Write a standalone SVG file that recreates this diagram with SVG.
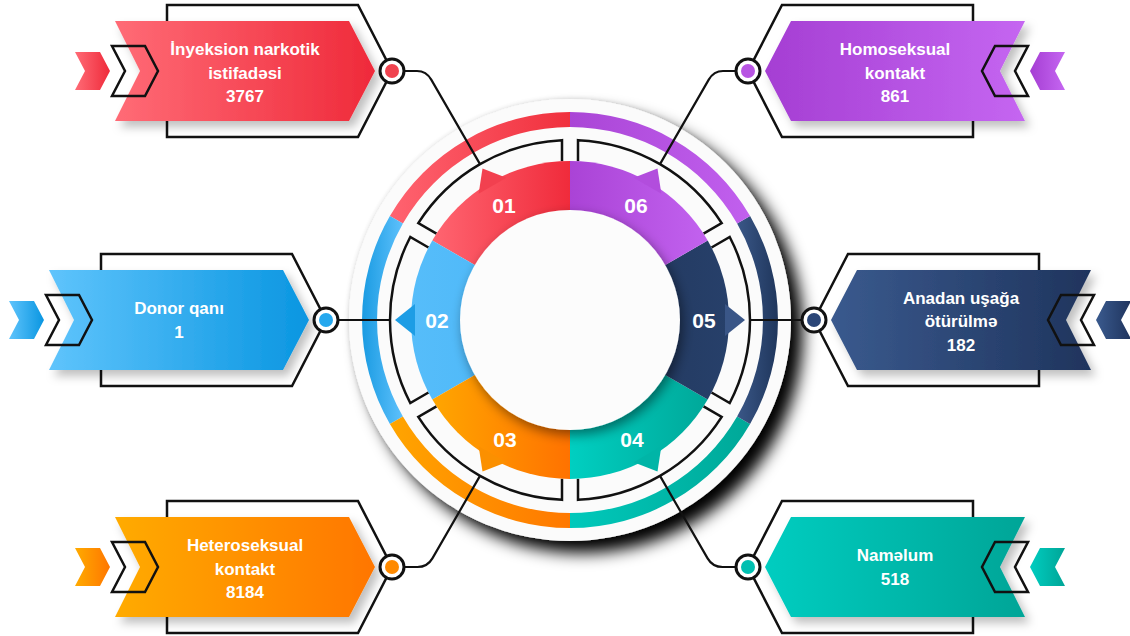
<svg xmlns="http://www.w3.org/2000/svg" width="1130" height="636" viewBox="0 0 1130 636">
<defs>
<style>
.t{font-family:"Liberation Sans",Arial,sans-serif;font-weight:bold;fill:#fff;text-anchor:middle;font-size:17px}
.n{font-size:21px}
.ol{fill:none;stroke:#111;stroke-width:2.5;stroke-linejoin:miter}
.fr{fill:none;stroke:#111;stroke-width:2.5;stroke-linejoin:miter}
.cn{fill:none;stroke:#111;stroke-width:2.2}
.ring{fill:#fff;stroke:#111;stroke-width:3}
</style>
<filter id="diskShadow" x="-20%" y="-20%" width="150%" height="150%">
<feGaussianBlur in="SourceAlpha" stdDeviation="8"/>
<feOffset dx="12" dy="12" result="o"/>
<feComponentTransfer in="o" result="d"><feFuncA type="linear" slope="1"/></feComponentTransfer>
<feGaussianBlur in="SourceAlpha" stdDeviation="2.5" result="s2"/>
<feComponentTransfer in="s2" result="d2"><feFuncA type="linear" slope="0.15"/></feComponentTransfer>
<feMerge><feMergeNode in="d"/><feMergeNode in="d2"/><feMergeNode in="SourceGraphic"/></feMerge>
</filter>
<filter id="soft" x="-20%" y="-30%" width="150%" height="170%">
<feDropShadow dx="5" dy="6" stdDeviation="5" flood-color="#000" flood-opacity="0.25"/>
</filter>
<filter id="inner" x="-30%" y="-30%" width="160%" height="160%">
<feDropShadow dx="3" dy="5" stdDeviation="6" flood-color="#000" flood-opacity="0.45"/>
</filter>
<linearGradient id="gRed" x1="0" x2="1" y1="0" y2="0"><stop offset="0" stop-color="#ff6b76"/><stop offset="1" stop-color="#ef2a3a"/></linearGradient>
<linearGradient id="gBlue" x1="0" x2="1" y1="0" y2="0"><stop offset="0" stop-color="#5fc4fc"/><stop offset="1" stop-color="#0a96e1"/></linearGradient>
<linearGradient id="gOrange" x1="0" x2="1" y1="0" y2="0"><stop offset="0" stop-color="#ffab00"/><stop offset="1" stop-color="#ff7600"/></linearGradient>
<linearGradient id="gPurple" x1="0" x2="1" y1="0" y2="0"><stop offset="0" stop-color="#a53ed3"/><stop offset="1" stop-color="#c566f1"/></linearGradient>
<linearGradient id="gNavy" x1="0" x2="1" y1="0" y2="0"><stop offset="0" stop-color="#3a5a8e"/><stop offset="1" stop-color="#1f345d"/></linearGradient>
<linearGradient id="gTeal" x1="0" x2="1" y1="0" y2="0"><stop offset="0" stop-color="#00cdc0"/><stop offset="1" stop-color="#00a597"/></linearGradient>
<linearGradient id="sRed" x1="0" x2="1" y1="0" y2="0"><stop offset="0" stop-color="#ff6571"/><stop offset="1" stop-color="#f02b3b"/></linearGradient>
<linearGradient id="sBlue" x1="0" x2="1" y1="0" y2="0"><stop offset="0" stop-color="#56bdfa"/><stop offset="1" stop-color="#48b5f7"/></linearGradient>
<linearGradient id="sOrange" x1="0" x2="1" y1="0" y2="0"><stop offset="0" stop-color="#ffa600"/><stop offset="1" stop-color="#ff7200"/></linearGradient>
<linearGradient id="sTeal" x1="0" x2="1" y1="0" y2="0"><stop offset="0" stop-color="#00cfc1"/><stop offset="1" stop-color="#00a899"/></linearGradient>
<linearGradient id="sNavy" x1="0" x2="1" y1="0" y2="0"><stop offset="0" stop-color="#1f3459"/><stop offset="1" stop-color="#27406a"/></linearGradient>
<linearGradient id="sPurple" x1="0" x2="1" y1="0" y2="0"><stop offset="0" stop-color="#aa43d6"/><stop offset="1" stop-color="#c262ef"/></linearGradient>
<linearGradient id="rRed" x1="0" x2="1" y1="0" y2="0"><stop offset="0" stop-color="#ff6370"/><stop offset="1" stop-color="#f0303d"/></linearGradient>
<linearGradient id="rBlue" x1="0" x2="1" y1="0" y2="0"><stop offset="0" stop-color="#1a9be2"/><stop offset="1" stop-color="#5ec1fc"/></linearGradient>
<linearGradient id="rOrange" x1="0" x2="1" y1="0" y2="0"><stop offset="0" stop-color="#ffa500"/><stop offset="1" stop-color="#ff7800"/></linearGradient>
<linearGradient id="rTeal" x1="0" x2="1" y1="0" y2="0"><stop offset="0" stop-color="#00c9bb"/><stop offset="1" stop-color="#00a898"/></linearGradient>
<linearGradient id="rNavy" x1="0" x2="1" y1="0" y2="0"><stop offset="0" stop-color="#3a5787"/><stop offset="1" stop-color="#1f365c"/></linearGradient>
<linearGradient id="rPurple" x1="0" x2="1" y1="0" y2="0"><stop offset="0" stop-color="#aa45d6"/><stop offset="1" stop-color="#c160ee"/></linearGradient>
</defs>

<rect width="1130" height="636" fill="#ffffff"/>

<g id="hub">
<circle cx="570" cy="320" r="221" fill="#fbfbfb" filter="url(#diskShadow)"/>
<g id="outer-ring">
<path d="M570,112 A208,208 0 0,0 389.9,216 L402.9,223.5 A193,193 0 0,1 570,127 Z" fill="url(#rRed)"/>
<path d="M389.9,216 A208,208 0 0,0 389.9,424 L402.9,416.5 A193,193 0 0,1 402.9,223.5 Z" fill="url(#rBlue)"/>
<path d="M389.9,424 A208,208 0 0,0 570,528 L570,513 A193,193 0 0,1 402.9,416.5 Z" fill="url(#rOrange)"/>
<path d="M570,528 A208,208 0 0,0 750.1,424 L737.1,416.5 A193,193 0 0,1 570,513 Z" fill="url(#rTeal)"/>
<path d="M750.1,424 A208,208 0 0,0 750.1,216 L737.1,223.5 A193,193 0 0,1 737.1,416.5 Z" fill="url(#rNavy)"/>
<path d="M750.1,216 A208,208 0 0,0 570,112 L570,127 A193,193 0 0,1 737.1,223.5 Z" fill="url(#rPurple)"/>
</g>
<g id="frames">
<path class="fr" d="M562,161.2 L562,140.18 A180,180 0 0,0 418.28,223.16 L436.48,233.67"/>
<path class="fr" d="M428.48,247.53 L410.28,237.02 A180,180 0 0,0 410.28,402.98 L428.48,392.47"/>
<path class="fr" d="M436.48,406.33 L418.28,416.84 A180,180 0 0,0 562,499.82 L562,478.8"/>
<path class="fr" d="M578,478.8 L578,499.82 A180,180 0 0,0 721.72,416.84 L703.52,406.33"/>
<path class="fr" d="M711.52,392.47 L729.72,402.98 A180,180 0 0,0 729.72,237.02 L711.52,247.53"/>
<path class="fr" d="M703.52,233.67 L721.72,223.16 A180,180 0 0,0 578,140.18 L578,161.2"/>
</g>
<g id="segments">
<path d="M570,320 L570,161 A159,159 0 0,0 432.3,240.5 Z" fill="url(#sRed)"/>
<path d="M570,320 L432.3,240.5 A159,159 0 0,0 432.3,399.5 Z" fill="url(#sBlue)"/>
<path d="M570,320 L432.3,399.5 A159,159 0 0,0 570,479 Z" fill="url(#sOrange)"/>
<path d="M570,320 L570,479 A159,159 0 0,0 707.7,399.5 Z" fill="url(#sTeal)"/>
<path d="M570,320 L707.7,399.5 A159,159 0 0,0 707.7,240.5 Z" fill="url(#sNavy)"/>
<path d="M570,320 L707.7,240.5 A159,159 0 0,0 570,161 Z" fill="url(#sPurple)"/>
<polygon points="482.5,168.45 506.36,177.77 478.64,193.77" fill="#f2404f"/>
<polygon points="395,320 415,304 415,336" fill="#1d9de5"/>
<polygon points="482.5,471.55 506.36,462.23 478.64,446.23" fill="#fb9000"/>
<polygon points="657.5,471.55 661.36,446.23 633.64,462.23" fill="#00b5a7"/>
<polygon points="745,320 725,304 725,336" fill="#3a5687"/>
<polygon points="657.5,168.45 661.36,193.77 633.64,177.77" fill="#b24ddd"/>
</g>
<circle cx="570" cy="320" r="110" fill="#fcfcfc" filter="url(#inner)"/>
<g id="labels">
<text class="t n" x="504" y="212.5">01</text>
<text class="t n" x="437" y="327.5">02</text>
<text class="t n" x="505" y="446.5">03</text>
<text class="t n" x="632" y="446.5">04</text>
<text class="t n" x="704" y="327.5">05</text>
<text class="t n" x="636" y="212.5">06</text>
</g>
</g>

<g id="connectors">
<path class="cn" d="M404.5,71 H417 Q426.24,71 431.24,79.66 L480,164.1"/>
<path class="cn" d="M338.5,320 H390"/>
<path class="cn" d="M404.5,567 H417.4 Q427.4,567 432.4,558.34 L480,475.9"/>
<path class="cn" d="M735.5,567 H722.6 Q712.6,567 707.6,558.34 L660,475.9"/>
<path class="cn" d="M801.5,320 H750"/>
<path class="cn" d="M735.5,71 H723 Q713.76,71 708.76,79.66 L660,164.1"/>
</g>

<g id="node-01">
<path class="ol" d="M167,5 H358 L392,71 L358,137 H167 Z"/>
<polygon points="115,21 349,21 375,71 349,121 115,121 140,71" fill="url(#gRed)" filter="url(#soft)"/>
<polygon class="ol" points="112,46 145,46 158,71 145,96 112,96 125,71"/>
<polygon points="75,52 100,52 110,71 100,90 75,90 85,71" fill="url(#gRed)"/>
<text class="t" x="245" y="55">İnyeksion narkotik</text>
<text class="t" x="245" y="78.5">istifadəsi</text>
<text class="t" x="245" y="102">3767</text>
<circle class="ring" cx="392" cy="71" r="12"/>
<circle cx="392" cy="71" r="7" fill="#f0434f"/>
</g>

<g id="node-02">
<path class="ol" d="M101,254 H292 L326,320 L292,386 H101 Z"/>
<polygon points="49,270 283,270 309,320 283,370 49,370 74,320" fill="url(#gBlue)" filter="url(#soft)"/>
<polygon class="ol" points="46,295 79,295 92,320 79,345 46,345 59,320"/>
<polygon points="9,301 34,301 44,320 34,339 9,339 19,320" fill="url(#gBlue)"/>
<text class="t" x="179" y="313.5">Donor qanı</text>
<text class="t" x="179" y="337.5">1</text>
<circle class="ring" cx="326" cy="320" r="12"/>
<circle cx="326" cy="320" r="7" fill="#26a8ee"/>
</g>

<g id="node-03">
<path class="ol" d="M167,501 H358 L392,567 L358,633 H167 Z"/>
<polygon points="115,517 349,517 375,567 349,617 115,617 140,567" fill="url(#gOrange)" filter="url(#soft)"/>
<polygon class="ol" points="112,542 145,542 158,567 145,592 112,592 125,567"/>
<polygon points="75,548 100,548 110,567 100,586 75,586 85,567" fill="url(#gOrange)"/>
<text class="t" x="245" y="551">Heteroseksual</text>
<text class="t" x="245" y="574.5">kontakt</text>
<text class="t" x="245" y="598">8184</text>
<circle class="ring" cx="392" cy="567" r="12"/>
<circle cx="392" cy="567" r="7" fill="#ff8a00"/>
</g>

<g id="node-04">
<path class="ol" d="M973,501 H782 L748,567 L782,633 H973 Z"/>
<polygon points="1025,517 791,517 765,567 791,617 1025,617 1000,567" fill="url(#gTeal)" filter="url(#soft)"/>
<polygon class="ol" points="1028,542 995,542 982,567 995,592 1028,592 1015,567"/>
<polygon points="1065,548 1040,548 1030,567 1040,586 1065,586 1055,567" fill="url(#gTeal)"/>
<text class="t" x="895" y="561">Naməlum</text>
<text class="t" x="895" y="585">518</text>
<circle class="ring" cx="748" cy="567" r="12"/>
<circle cx="748" cy="567" r="7" fill="#00bfb1"/>
</g>

<g id="node-05">
<path class="ol" d="M1039,254 H848 L814,320 L848,386 H1039 Z"/>
<polygon points="1091,270 857,270 831,320 857,370 1091,370 1066,320" fill="url(#gNavy)" filter="url(#soft)"/>
<polygon class="ol" points="1094,295 1061,295 1048,320 1061,345 1094,345 1081,320"/>
<polygon points="1131,301 1106,301 1096,320 1106,339 1131,339 1121,320" fill="url(#gNavy)"/>
<text class="t" x="961" y="303.5">Anadan uşağa</text>
<text class="t" x="961" y="327">ötürülmə</text>
<text class="t" x="961" y="350.5">182</text>
<circle class="ring" cx="814" cy="320" r="12"/>
<circle cx="814" cy="320" r="7" fill="#2b4677"/>
</g>

<g id="node-06">
<path class="ol" d="M973,5 H782 L748,71 L782,137 H973 Z"/>
<polygon points="1025,21 791,21 765,71 791,121 1025,121 1000,71" fill="url(#gPurple)" filter="url(#soft)"/>
<polygon class="ol" points="1028,46 995,46 982,71 995,96 1028,96 1015,71"/>
<polygon points="1065,52 1040,52 1030,71 1040,90 1065,90 1055,71" fill="url(#gPurple)"/>
<text class="t" x="895" y="55">Homoseksual</text>
<text class="t" x="895" y="78.5">kontakt</text>
<text class="t" x="895" y="102">861</text>
<circle class="ring" cx="748" cy="71" r="12"/>
<circle cx="748" cy="71" r="7" fill="#b855e3"/>
</g>
</svg>
